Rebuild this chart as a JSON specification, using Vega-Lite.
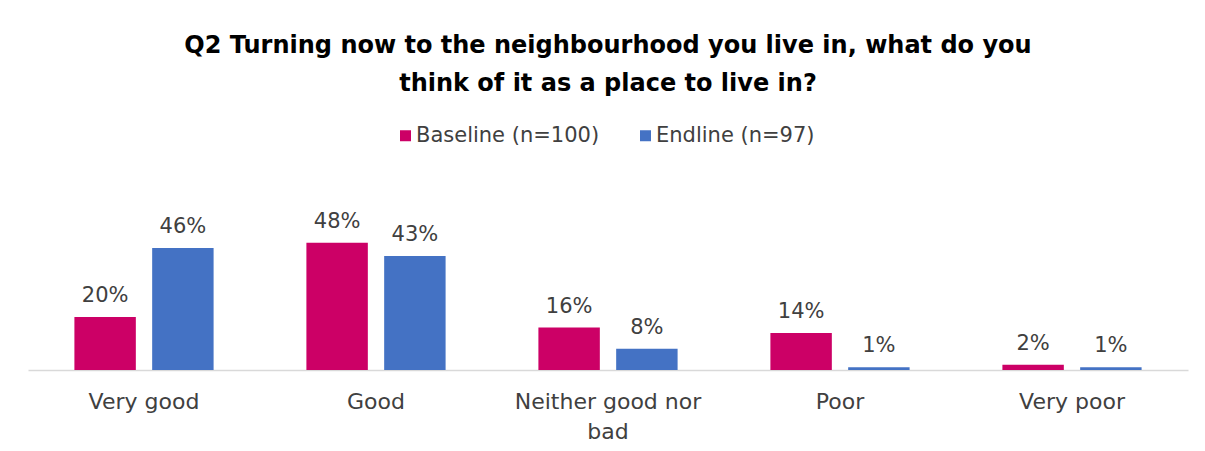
{
  "$schema": "https://vega.github.io/schema/vega-lite/v6.json",
  "width": 1160,
  "height": 159,
  "autosize": {"type": "none"},
  "padding": {"left": 28, "top": 211, "right": 17, "bottom": 81},
  "background": "#ffffff",
  "title": {
    "text": ["Q2 Turning now to the neighbourhood you live in, what do you", "think of it as a place to live in?"],
    "font": "DejaVu Sans",
    "fontSize": 24,
    "fontWeight": "bold",
    "color": "#000000",
    "lineHeight": 38,
    "offset": 29,
    "anchor": "middle",
    "frame": "group"
  },
  "data": {
    "values": [
      {"category": "Very good", "series": "Baseline (n=100)", "value": 0.20},
      {"category": "Very good", "series": "Endline (n=97)", "value": 0.46},
      {"category": "Good", "series": "Baseline (n=100)", "value": 0.48},
      {"category": "Good", "series": "Endline (n=97)", "value": 0.43},
      {"category": "Neither good nor bad", "series": "Baseline (n=100)", "value": 0.16},
      {"category": "Neither good nor bad", "series": "Endline (n=97)", "value": 0.08},
      {"category": "Poor", "series": "Baseline (n=100)", "value": 0.14},
      {"category": "Poor", "series": "Endline (n=97)", "value": 0.01},
      {"category": "Very poor", "series": "Baseline (n=100)", "value": 0.02},
      {"category": "Very poor", "series": "Endline (n=97)", "value": 0.01}
    ]
  },
  "encoding": {
    "x": {
      "field": "category",
      "type": "nominal",
      "sort": ["Very good", "Good", "Neither good nor bad", "Poor", "Very poor"],
      "scale": {"paddingInner": 0.4, "paddingOuter": 0.2},
      "axis": {
        "title": null,
        "labelAngle": 0,
        "ticks": false,
        "domainColor": "#D9D9D9",
        "domainWidth": 1.5,
        "labelFont": "DejaVu Sans",
        "labelFontSize": 22,
        "labelColor": "#404040",
        "labelPadding": 21,
        "labelLineHeight": 30,
        "labelLimit": 400,
        "labelExpr": "datum.value == 'Neither good nor bad' ? ['Neither good nor', 'bad'] : datum.value"
      }
    },
    "xOffset": {
      "field": "series",
      "type": "nominal",
      "sort": ["Baseline (n=100)", "Endline (n=97)"],
      "scale": {"paddingInner": 0.21, "paddingOuter": 0}
    },
    "y": {
      "field": "value",
      "type": "quantitative",
      "scale": {"domain": [0, 0.6]},
      "axis": null
    }
  },
  "layer": [
    {
      "mark": {"type": "bar"},
      "encoding": {
        "color": {
          "field": "series",
          "type": "nominal",
          "sort": ["Baseline (n=100)", "Endline (n=97)"],
          "scale": {"domain": ["Baseline (n=100)", "Endline (n=97)"], "range": ["#CC0066", "#4472C4"]},
          "legend": {
            "title": null,
            "orient": "none",
            "legendX": 367,
            "legendY": -86,
            "direction": "horizontal",
            "symbolType": "square",
            "symbolSize": 121,
            "symbolStrokeWidth": 0,
            "labelFont": "DejaVu Sans",
            "labelFontSize": 21,
            "labelColor": "#404040",
            "labelOffset": 0,
            "columnPadding": 35,
            "labelLimit": 400
          }
        }
      }
    },
    {
      "mark": {"type": "text", "dy": -15, "baseline": "alphabetic", "font": "DejaVu Sans", "fontSize": 21, "color": "#404040"},
      "encoding": {
        "text": {"field": "value", "type": "quantitative", "format": ".0%"}
      }
    }
  ],
  "config": {"view": {"stroke": null}}
}
